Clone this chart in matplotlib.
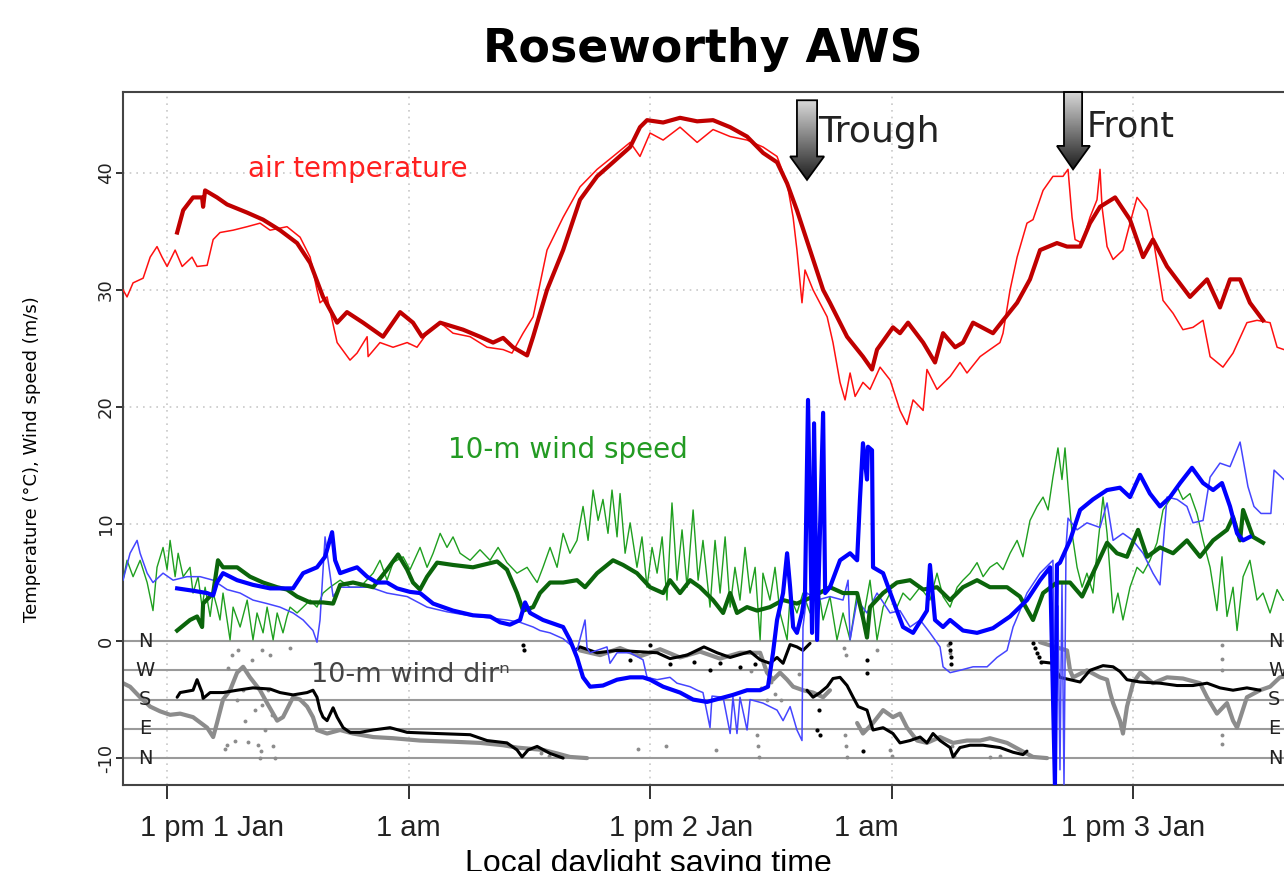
import numpy as np
import matplotlib
matplotlib.use("Agg")
import matplotlib.pyplot as plt
from matplotlib.patches import Polygon

nan = np.nan

# hours after 1 pm 1 Jan (local daylight saving time)
tick_hours = [0, 12, 24, 36, 48]
tick_labels = ["1 pm 1 Jan", "1 am", "1 pm 2 Jan", "1 am", "1 pm 3 Jan"]
# the labels in the source image sit a little off their ticks
label_hours = [2.24, 11.98, 25.54, 34.73, 48.0]

# air temperature, thin red (station 1)
temp1_t = [-2.19, -1.99, -1.69, -1.19, -0.84, -0.50, -0.25, 0.00, 0.40, 0.75, 1.24, 1.49, 1.99, 2.29,
           2.63, 3.28, 3.98, 4.62, 5.12, 5.96, 6.61, 7.11, 7.45, 7.60, 7.95, 8.45, 9.09, 9.44, 9.94,
           9.99, 10.58, 11.23, 11.93, 12.42, 12.92, 13.57, 14.21, 15.06, 15.90, 16.70, 17.14, 17.69,
           18.19, 18.88, 19.68, 20.52, 21.37, 22.16, 23.01, 23.50, 24.00, 24.65, 25.49, 26.34, 27.13,
           27.98, 28.82, 29.62, 30.31, 30.81, 31.11, 31.30, 31.55, 31.70, 32.10, 32.80, 33.09, 33.44,
           33.69, 33.94, 34.19, 34.58, 34.93, 35.43, 35.93, 36.42, 36.77, 37.07, 37.57, 37.76, 38.26,
           38.91, 39.40, 39.75, 40.40, 40.89, 41.39, 41.54, 41.89, 42.24, 42.73, 43.03, 43.53, 44.02,
           44.52, 44.77, 44.97, 45.12, 45.47, 45.86, 46.21, 46.36, 46.46, 46.71, 47.01, 47.50, 47.85,
           48.20, 48.70, 48.99, 49.49, 49.99, 50.48, 50.98, 51.48, 51.83, 52.47, 52.97, 53.66, 54.16,
           54.81, 55.16, 55.50, 56.30]
temp1 = [30.0, 29.4, 30.6, 31.0, 32.8, 33.7, 32.8, 32.0, 33.4, 32.0, 32.8, 32.0, 32.1, 34.3,
         34.9, 35.1, 35.4, 35.7, 35.1, 35.4, 34.5, 32.8, 30.0, 28.9, 29.4, 25.5, 24.0, 24.6, 26.0,
         24.3, 25.5, 25.1, 25.5, 25.1, 26.3, 27.2, 26.3, 26.0, 25.1, 24.9, 24.6, 26.3,
         27.7, 33.4, 36.2, 38.8, 40.3, 41.4, 42.6, 41.4, 43.4, 42.8, 43.9, 42.6, 43.7,
         43.1, 42.8, 42.2, 41.4, 39.1, 36.2, 33.4, 28.9, 31.7, 30.0, 27.7, 25.5, 22.1,
         20.6, 22.9, 20.9, 22.1, 21.5, 23.4, 22.3, 19.7, 18.5, 20.6, 19.7, 23.2, 21.5,
         22.6, 23.8, 22.9, 24.3, 24.9, 25.5, 26.3, 30.0, 32.8, 35.7, 36.0, 38.5, 39.7,
         39.7, 40.3, 36.2, 34.3, 34.0, 36.2, 37.7, 40.3, 37.1, 33.7, 32.6, 33.4, 35.7,
         37.9, 36.8, 34.5, 29.1, 28.0, 26.6, 26.8, 27.4, 24.3, 23.4, 24.6, 27.2, 27.4,
         27.2, 25.1, 24.9, 25.0]

# air temperature, thick dark red (station 2)
temp2_t = [0.50, 0.80, 1.29, 1.74, 1.79, 1.89, 2.48, 2.98, 3.98, 4.77, 5.61, 6.46, 7.11, 7.75,
           8.45, 8.94, 9.74, 10.73, 11.58, 12.22, 12.67, 13.57, 14.71, 15.55, 16.20, 16.70, 17.19,
           17.89, 18.19, 18.88, 19.68, 20.52, 21.37, 22.16, 23.01, 23.50, 23.85, 24.65, 25.49, 26.34,
           27.13, 27.98, 28.82, 29.62, 30.31, 30.81, 31.30, 31.95, 32.60, 32.94, 33.79, 34.58, 35.03,
           35.28, 36.07, 36.42, 36.82, 37.57, 38.16, 38.56, 39.16, 39.55, 40.05, 41.04, 41.54, 42.24,
           42.88, 43.38, 44.22, 44.72, 45.37, 45.86, 46.36, 47.11, 47.85, 48.50, 48.99, 49.69, 50.83,
           51.68, 52.32, 52.82, 53.32, 53.81, 54.46]
temp2 = [34.9, 36.8, 37.9, 37.9, 37.1, 38.5, 37.9, 37.3, 36.6, 36.0, 35.1, 34.0, 32.3, 29.4,
         27.2, 28.1, 27.2, 26.0, 28.1, 27.2, 26.0, 27.2, 26.6, 26.0, 25.5, 25.9, 25.1,
         24.4, 26.0, 30.0, 33.4, 37.7, 39.7, 40.9, 42.2, 43.9, 44.5, 44.3, 44.7, 44.4,
         44.5, 43.9, 43.1, 41.7, 40.9, 39.1, 36.8, 33.4, 30.0, 28.9, 26.0, 24.3, 23.2,
         24.9, 26.8, 26.3, 27.2, 25.5, 23.8, 26.3, 25.1, 25.5, 27.2, 26.3, 27.4, 28.9,
         30.9, 33.4, 34.0, 33.7, 33.7, 35.7, 37.1, 37.9, 36.0, 32.8, 34.3, 32.0, 29.4,
         30.9, 28.5, 30.9, 30.9, 28.9, 27.4]

# 10-m wind speed, thin green (station 1)
wind1_t = [-2.19, -1.99, -1.69, -1.34, -0.99, -0.70, -0.50, -0.20, 0.00, 0.15, 0.40, 0.55, 0.80,
           1.14, 1.29, 1.54, 1.74, 1.89, 2.14, 2.29, 2.48, 2.63, 2.78, 3.13, 3.28, 3.63, 3.98, 4.27,
           4.47, 4.77, 4.97, 5.27, 5.47, 5.76, 5.96, 6.11, 6.46, 6.76, 7.11, 7.45, 7.75, 8.10, 8.60,
           9.09, 9.59, 10.24, 10.58, 10.93, 11.23, 11.73, 12.07, 12.57, 12.92, 13.22, 13.57, 13.91,
           14.21, 14.56, 15.06, 15.55, 16.05, 16.45, 16.89, 17.39, 17.89, 18.19, 18.39, 18.68, 19.03,
           19.38, 19.68, 20.02, 20.37, 20.67, 20.92, 21.17, 21.42, 21.66, 21.91, 22.11, 22.36, 22.51,
           22.76, 23.01, 23.35, 23.60, 23.85, 24.10, 24.35, 24.60, 24.84, 25.09, 25.34, 25.59, 25.84,
           26.14, 26.39, 26.63, 26.98, 27.23, 27.48, 27.73, 27.98, 28.22, 28.47, 28.72, 28.97, 29.22,
           29.47, 29.61, 29.96, 30.21, 30.46, 30.81, 30.96, 31.30, 31.60, 31.95, 32.30, 32.60, 32.94,
           33.29, 33.59, 33.94, 34.29, 34.58, 34.93, 35.28, 35.58, 35.93, 36.27, 36.57, 36.92, 37.42,
           37.91, 38.26, 38.56, 38.91, 39.26, 39.55, 39.90, 40.25, 40.55, 40.89, 41.24, 41.54, 41.89,
           42.24, 42.53, 42.88, 43.23, 43.53, 43.78, 44.02, 44.27, 44.47, 44.62, 44.77, 44.97, 45.22,
           45.47, 45.71, 46.01, 46.26, 46.51, 46.71, 47.01, 47.25, 47.50, 47.85, 48.20, 48.50, 48.84,
           49.19, 49.49, 49.84, 50.19, 50.48, 50.83, 51.18, 51.48, 51.83, 52.17, 52.42, 52.67, 52.97,
           53.17, 53.47, 53.81, 54.16, 54.46, 54.81, 55.16, 55.45, 56.30]
wind1 = [5.2, 6.9, 5.5, 6.9, 5.0, 2.6, 6.3, 8.0, 6.1, 8.6, 5.5, 7.5, 5.5,
         6.3, 4.1, 5.5, 2.9, 4.6, 2.1, 4.1, 2.9, 1.8, 4.1, 0.1, 2.9, 1.2, 3.5, 0.1,
         2.4, 0.7, 2.9, 0.1, 2.4, 0.7, 2.1, 2.9, 2.4, 2.9, 3.5, 2.9, 4.1, 4.6, 5.2,
         4.6, 4.6, 5.8, 6.9, 5.2, 6.7, 7.2, 6.1, 8.0, 6.3, 7.5, 9.2, 8.0,
         8.9, 7.5, 6.9, 7.8, 6.9, 8.0, 6.7, 5.8, 6.3, 5.5, 5.0, 6.3, 8.0,
         6.3, 9.2, 7.5, 8.6, 11.5, 8.6, 12.9, 10.3, 12.1, 9.2, 12.9, 8.9, 12.6,
         7.5, 10.1, 6.3, 8.9, 4.6, 8.0, 5.8, 8.9, 3.5, 11.8, 5.2, 9.5, 4.6,
         11.2, 5.2, 8.6, 2.9, 8.6, 4.1, 8.9, 2.9, 6.3, 3.5, 8.0, 4.1, 6.3,
         0.1, 5.8, 3.5, 6.3, 2.4, 0.1, 3.8, 2.4, 4.1, 2.4, 5.2, 1.8, 3.8,
         0.1, 2.4, 0.1, 4.1, 1.8, 5.2, 0.1, 2.9, 4.1, 2.9, 4.1, 3.5, 4.6,
         3.5, 5.8, 3.8, 2.9, 4.6, 5.2, 5.8, 6.7, 5.5, 6.3, 6.7, 6.1, 7.5,
         8.6, 7.2, 10.3, 11.5, 12.3, 11.2, 14.0, 16.5, 13.8, 16.5, 13.2, 9.2, 6.3,
         4.6, 5.8, 4.1, 8.4, 12.3, 9.2, 2.4, 4.1, 1.8, 4.6, 6.3, 5.8, 6.9,
         8.4, 11.2, 12.1, 13.2, 12.1, 12.6, 10.9, 8.6, 6.3, 2.6, 7.2, 2.1, 4.6,
         0.9, 5.5, 6.9, 3.5, 4.1, 2.4, 4.4, 3.5, 3.2]

# 10-m wind speed, thick dark green (station 2)
wind2_t = [0.50, 1.14, 1.49, 1.74, 1.79, 2.29, 2.53, 2.78, 3.48, 4.12, 4.77, 5.47, 5.96, 6.46,
           7.11, 7.75, 8.25, 8.60, 9.24, 10.24, 10.93, 11.48, 11.93, 12.22, 12.57, 12.92, 13.42,
           14.21, 15.20, 16.40, 16.89, 17.39, 17.69, 18.19, 18.53, 19.03, 19.68, 20.37, 20.77, 21.37,
           22.16, 22.66, 23.35, 24.00, 24.65, 24.99, 25.49, 25.99, 26.48, 27.13, 27.63, 27.98, 28.32,
           28.82, 29.32, 29.96, 30.61, 31.30, 32.10, 32.94, 33.59, 34.29, 34.58, 34.78, 34.93, 35.58,
           36.27, 36.92, 37.57, 38.26, 38.91, 39.55, 40.25, 40.89, 41.74, 42.38, 43.03, 43.53, 44.22,
           44.87, 45.47, 46.01, 46.71, 47.20, 47.70, 48.25, 48.70, 49.34, 49.99, 50.68, 51.33, 51.98,
           52.67, 52.97, 53.32, 53.47, 53.96, 54.46]
wind2 = [0.9, 1.8, 2.1, 1.2, 3.2, 4.1, 6.9, 6.3, 6.3, 5.5, 5.0, 4.6, 4.4, 3.8,
         3.3, 3.3, 3.2, 4.8, 5.0, 4.6, 6.1, 7.4, 6.1, 5.0, 4.4, 5.5, 6.7,
         6.5, 6.3, 6.8, 6.1, 4.1, 2.6, 2.9, 4.1, 5.0, 5.0, 5.2, 4.6, 5.8,
         6.9, 6.5, 5.8, 4.6, 4.1, 5.2, 4.1, 5.2, 4.6, 3.5, 2.4, 4.1, 2.4,
         2.9, 2.6, 2.9, 3.5, 3.2, 3.8, 4.6, 4.1, 4.1, 2.0, 0.3, 2.9, 4.1,
         5.0, 5.2, 4.4, 4.6, 3.5, 4.6, 5.2, 4.6, 4.6, 3.8, 1.8, 4.1, 5.0,
         5.0, 3.8, 5.8, 8.4, 7.5, 7.2, 9.5, 7.2, 8.0, 7.5, 8.6, 7.2, 8.6,
         9.5, 10.6, 8.6, 11.2, 8.9, 8.4]

# blue trace, thin (station 1)
blue1_t = [-2.19, -1.84, -1.49, -1.34, -0.99, -0.70, -0.20, 0.30, 0.99, 1.64, 2.29, 2.98, 3.63,
           4.27, 4.97, 5.61, 6.26, 6.76, 7.25, 7.45, 7.60, 7.85, 8.00, 8.25, 8.60, 9.24, 10.09,
           10.93, 11.93, 12.92, 13.91, 14.91, 15.90, 16.89, 17.54, 18.19, 18.53, 19.03, 19.68, 20.17,
           20.37, 20.77, 20.87, 21.02, 21.86, 22.01, 22.36, 23.01, 23.65, 23.85, 24.35, 24.99, 25.34,
           25.99, 26.34, 26.63, 26.98, 27.08, 27.63, 27.98, 28.12, 28.32, 28.47, 28.82, 28.97, 29.61,
           30.31, 30.61, 30.96, 31.30, 31.55, 31.60, 31.80, 32.30, 32.94, 33.59, 33.84, 33.94, 34.29,
           34.78, 35.28, 35.93, 36.42, 36.92, 37.42, 37.91, 38.41, 38.56, 38.91, 39.40, 40.05, 40.75,
           41.24, 41.74, 42.04, 42.38, 42.73, 43.38, 44.02, 44.12, 44.27, 44.37, 44.47, 44.57, 44.67,
           44.77, 45.22, 45.71, 46.36, 46.71, 47.01, 47.50, 47.99, 48.50, 48.99, 49.34, 49.69, 50.19,
           50.68, 50.98, 51.48, 51.83, 52.32, 52.82, 53.32, 53.71, 54.01, 54.36, 54.85, 55.01, 55.50,
           56.30]
blue1 = [5.2, 7.5, 8.6, 7.5, 5.8, 5.0, 5.8, 5.2, 5.5, 5.5, 5.2, 4.4, 4.1,
         3.5, 3.2, 2.9, 2.4, 1.8, 0.9, -0.1, 1.8, 8.9, 6.9, 3.8, 4.6, 4.6, 4.6,
         4.1, 3.8, 2.9, 2.5, 2.2, 2.0, 1.8, 1.6, 1.2, 0.9, 0.7, 0.2, -0.5,
         -0.8, 1.8, -0.6, -1.0, -0.5, -1.9, -1.0, -1.0, -1.6, -3.1, -3.3, -3.1, -3.6,
         -3.9, -4.2, -4.4, -7.4, -4.7, -4.8, -7.9, -4.8, -7.9, -4.8, -7.6, -5.0, -5.3,
         -5.9, -6.8, -5.6, -7.6, -8.5, 1.2, 4.1, 3.5, 3.8, 3.5, 5.2, 0.1, 3.5,
         2.4, 4.1, 2.4, 2.6, 1.2, 1.8, 0.7, -0.5, -2.2, -2.7, -2.5, -2.2, -2.2,
         -1.4, -0.8, 1.2, 2.6, 4.1, 5.8, 6.9, -12.3, 3.0, -11.0, 5.0, -12.3, 8.0,
         10.5, 9.5, 10.1, 9.7, 11.8, 8.6, 9.2, 8.6, 7.5, 5.8, 4.8, 12.3, 12.1,
         11.5, 10.1, 10.3, 14.0, 15.2, 14.9, 17.0, 13.2, 11.5, 10.9, 10.9, 14.6, 13.8,
         13.8]

# blue trace, thick (station 2)
blue2_t = [0.50, 1.29, 1.99, 2.29, 2.48, 2.78, 3.48, 4.27, 5.12, 6.26, 6.76, 7.45, 7.85, 8.20,
           8.35, 8.60, 9.09, 9.44, 9.94, 10.43, 10.93, 11.43, 12.07, 12.57, 13.22, 14.21, 15.20,
           16.05, 16.55, 17.04, 17.54, 17.79, 18.04, 18.68, 19.68, 20.02, 20.37, 20.67, 21.02, 21.66,
           22.36, 23.01, 23.65, 24.00, 24.65, 25.49, 26.14, 26.83, 27.48, 28.12, 28.82, 29.47, 29.86,
           30.11, 30.31, 30.61, 30.81, 30.96, 31.11, 31.30, 31.55, 31.70, 31.85, 32.05, 32.15, 32.30,
           32.60, 32.70, 32.94, 33.44, 33.94, 34.29, 34.43, 34.58, 34.78, 34.83, 35.03, 35.08, 35.58,
           36.07, 36.57, 37.07, 37.76, 37.91, 38.16, 38.56, 38.91, 39.55, 40.25, 41.04, 41.89, 42.73,
           43.38, 43.88, 44.12, 44.22, 44.37, 44.87, 45.37, 46.01, 46.71, 47.35, 47.85, 48.35, 48.84,
           49.34, 49.84, 50.34, 50.93, 51.48, 51.98, 52.42, 52.82, 53.17, 53.47, 53.81]
blue2 = [4.5, 4.3, 4.1, 3.9, 5.0, 5.8, 5.2, 4.8, 4.5, 4.5, 5.8, 6.3, 7.2, 9.3,
         6.9, 5.8, 6.1, 6.3, 5.5, 5.0, 5.0, 4.5, 4.2, 4.1, 3.2, 2.6, 2.2,
         2.1, 1.6, 1.4, 1.8, 3.3, 2.4, 1.8, 1.2, 0.1, -1.4, -3.1, -3.9, -3.8,
         -3.3, -3.1, -3.1, -3.3, -3.9, -4.4, -5.0, -5.2, -4.9, -4.6, -4.2, -4.2, -3.9,
         -1.0, 1.8, 4.1, 7.5, 4.6, 1.2, 0.7, 2.4, 4.1, 20.6, 0.7, 18.6, 0.1,
         19.5, 4.1, 4.6, 6.9, 7.5, 6.9, 12.1, 16.9, 13.8, 16.6, 16.3, 6.3, 5.8,
         3.5, 1.2, 0.7, 2.6, 6.5, 1.8, 1.2, 1.8, 0.9, 0.7, 1.1, 2.1, 3.5,
         5.2, 6.3, -12.3, 6.5, 6.7, 8.6, 11.2, 12.1, 12.9, 13.1, 12.3, 14.2, 12.6,
         11.5, 12.3, 13.5, 14.8, 13.5, 12.9, 13.5, 11.5, 9.2, 8.6, 8.9]

# 10-m wind direction (N=0, W=-2.5, S=-5, E=-7.5, N=-10), grey = station 1
dir1_t = [-2.19, -1.84, -1.34, -0.84, -0.35, 0.15, 0.65, 1.29, 1.99, 2.29, 2.48, 2.78, 3.13, 3.48,
          3.78, 4.12, 4.62, 4.97, 5.47, 5.76, 6.26, 6.61, 6.96, 7.25, 7.45, 7.95, 8.60, 9.24, 10.24,
          11.23, 12.57, 14.21, 15.55, 16.70, 17.39, 18.04, 18.68, 19.38, 20.02, 20.87, nan,
          20.52, 21.52, 22.51, 23.50, 24.50, 25.49, 26.48, 27.48, 28.47, 29.47, 29.81, 30.11, 30.46,
          30.81, 31.11, 31.60, 32.10, 32.60, 32.94, nan,
          34.29, 34.58, 35.08, 35.58, 36.07, 36.42, 36.77, 37.27, 37.76, 38.41, 39.06, 39.75, 40.40,
          40.89, 41.74, 42.38, 43.03, 43.73, nan,
          43.38, 44.12, 44.72, 44.87, 45.02, 45.71, 46.36, 46.71, 46.86, 47.01, 47.35, 47.50, 47.70,
          48.00, 48.35, 48.99, 49.69, 50.48, 51.33, 51.68, 52.17, 52.67, 52.97, 53.17, 53.66, 54.31,
          54.81, 55.30, 56.30]
dir1 = [-3.6, -3.9, -4.8, -5.6, -6.0, -6.3, -6.2, -6.5, -7.4, -8.2, -7.0, -5.0, -4.2, -2.7,
        -2.2, -3.1, -4.2, -5.3, -6.8, -6.5, -4.8, -5.0, -5.6, -6.5, -7.6, -7.9, -7.6, -7.9, -8.2,
        -8.3, -8.5, -8.6, -8.7, -8.9, -9.1, -9.2, -9.3, -9.6, -9.9, -10.0, nan,
        -0.8, -1.2, -0.6, -1.3, -0.7, -1.4, -0.9, -1.5, -1.0, -1.0, -2.7, -3.3, -2.7,
        -3.3, -3.9, -4.2, -4.4, -4.8, -4.2, nan,
        -7.0, -7.9, -7.0, -5.9, -6.5, -6.2, -7.4, -8.5, -8.7, -8.2, -8.7, -8.5, -8.5,
        -8.3, -8.7, -9.3, -9.9, -10.0, nan,
        -0.1, -0.5, -0.8, -2.5, -3.1, -2.5, -3.1, -3.3, -4.4, -5.3, -6.8, -7.9, -5.6,
        -3.6, -2.7, -3.6, -3.1, -3.2, -3.6, -4.8, -6.2, -5.3, -6.8, -7.4, -4.8, -4.2,
        -3.9, -3.1, -2.8]

dir1_pts_t = [3.03, 3.23, 3.38, 3.53, 3.78, 4.02, 4.22, 4.37, 4.52, 4.72, 4.87, 5.02, 5.12, 5.22,
              3.48, 3.88, 4.72, 6.11, 5.27, 5.37, 3.00, 2.90, 4.60, 4.65, 18.60, 19.00, 23.40,
              24.80, 27.30, 29.30, 29.35, 29.40, 29.00, 29.50, 29.80, 30.00, 30.20, 30.50, 31.40,
              33.64, 33.69, 33.74, 33.74, 33.79, 35.28, 35.90, 36.00, 38.80, 38.90, 39.00, 39.10,
              40.90, 41.40, 42.60, 52.42, 52.42, 52.42, 52.42, 52.42]
dir1_pts = [-2.3, -1.2, -8.5, -0.8, -4.2, -8.6, -1.6, -5.9, -8.9, -0.8, -7.6, -4.2, -1.2, -6.3,
            -5.0, -6.8, -5.5, -0.6, -9.0, -10.0, -8.9, -9.2, -10.0, -9.4, -9.6, -9.8, -9.2,
            -9.0, -9.3, -8.0, -9.0, -9.9, -2.6, -4.0, -5.0, -3.5, -4.5, -5.0, -2.8,
            -0.6, -8.0, -9.0, -1.2, -9.9, -0.8, -9.3, -9.8, -0.3, -1.0, -9.0, -9.8,
            -9.9, -9.8, -9.6, -0.3, -1.5, -2.5, -8.0, -8.8]

# 10-m wind direction, black = station 2
dir2_t = [0.50, 0.65, 1.29, 1.49, 1.74, 1.79, 2.14, 2.78, 3.48, 4.27, 5.12, 5.61, 6.26, 6.96,
          7.25, 7.45, 7.60, 7.75, 7.95, 8.25, 8.45, 8.75, 9.09, 9.59, 10.24, 11.08, 11.93, 13.42,
          15.06, 15.90, 16.89, 17.39, 17.64, 17.94, 18.39, 19.03, 19.68, nan,
          20.27, 20.52, 21.37, 22.36, 23.35, 24.35, 24.99, 25.84, 26.68, 27.33, 27.98, 28.97, 29.47,
          29.96, 30.31, 30.61, 30.96, 31.30, 31.60, 31.95, nan,
          31.80, 32.10, 32.45, 32.80, 33.09, 33.44, 33.79, 34.09, 34.34, 34.78, 35.08, 35.58, 36.07,
          36.42, 36.92, 37.42, 37.76, 38.06, 38.41, 38.91, 39.06, 39.40, 39.90, 40.55, 41.39, 42.04,
          42.53, 42.73, nan,
          43.53, 44.02, 44.37, 44.87, 45.37, 45.86, 46.51, 47.01, 47.35, 47.70, 48.35, 49.34, 50.19,
          50.98, 51.68, 52.32, 52.97, 53.66, 54.31]
dir2 = [-4.8, -4.4, -4.2, -3.3, -4.4, -4.9, -4.4, -4.4, -4.2, -4.0, -4.1, -4.4, -4.6, -4.4,
        -4.2, -4.8, -5.9, -6.5, -6.8, -5.7, -6.5, -7.4, -7.8, -7.8, -7.6, -7.4, -7.8, -7.9,
        -8.0, -8.5, -8.7, -9.3, -9.9, -9.3, -9.0, -9.6, -10.0, nan,
        -0.8, -0.5, -1.0, -0.8, -0.9, -1.0, -1.5, -1.2, -0.5, -1.0, -1.4, -0.9, -1.6,
        -1.9, -1.4, -1.9, -0.3, -0.5, -0.8, -0.2, nan,
        -4.2, -4.8, -4.4, -3.9, -3.2, -3.1, -3.8, -4.8, -5.6, -5.9, -7.6, -7.4, -7.9,
        -8.7, -8.5, -8.2, -8.7, -7.9, -8.5, -9.1, -9.9, -9.1, -8.9, -8.9, -9.1, -9.5,
        -9.7, -9.4, nan,
        -1.8, -1.9, -3.1, -3.3, -3.5, -2.5, -2.1, -2.2, -2.6, -3.3, -3.5, -3.6, -3.8,
        -3.8, -3.6, -4.0, -4.2, -4.0, -4.2]

dir2_pts_t = [17.70, 17.75, 43.03, 43.13, 43.23, 43.33, 43.43, 38.90, 38.90, 38.95, 38.95, 26.98,
              27.48, 28.47, 29.22, 26.20, 25.00, 24.00, 23.00, 32.40, 32.30, 32.45, 34.78, 34.78,
              34.60]
dir2_pts = [-0.3, -0.8, -0.2, -0.6, -1.0, -1.4, -1.8, -0.2, -0.8, -1.4, -2.0, -2.5,
            -1.9, -2.2, -2.0, -1.8, -2.0, -0.3, -1.6, -5.9, -7.6, -8.0, -1.6, -2.7,
            -9.4]

dir_levels = [0, -2.5, -5, -7.5, -10]
dir_letters = ["N", "W", "S", "E", "N"]

sans = ['Liberation Sans', 'DejaVu Sans']

plt.rcParams['font.family'] = ['DejaVu Sans']
fig = plt.figure(figsize=(12.84, 8.71), dpi=100)
ax = fig.add_axes([0.0958, 0.0987, 0.9167, 0.7956])

xmin, xmax = -2.19, 56.3
ymin, ymax = -12.3, 46.9

# grid
for h in tick_hours:
    ax.axvline(h, color='#c8c8c8', lw=1.2, ls=(0, (1, 3)), zorder=0)
for v in [10, 20, 30, 40]:
    ax.axhline(v, color='#c8c8c8', lw=1.2, ls=(0, (1, 3)), zorder=0)

# compass reference lines
for lev, let in zip(dir_levels, dir_letters):
    ax.axhline(lev, color='#9a9a9a', lw=1.5, zorder=1)
    ax.text(-1.09, lev, let, fontsize=14, color='#222222', ha='center', va='center', zorder=6)
    ax.text(54.7, lev, let, fontsize=14, color='#222222', ha='left', va='center', zorder=6)

# wind direction
ax.plot(dir1_t, dir1, color='#8c8c8c', lw=3.0, solid_capstyle='round', zorder=2)
ax.plot(dir1_pts_t, dir1_pts, 'o', color='#8c8c8c', ms=2.8, mew=0, zorder=2)
ax.plot(dir2_t, dir2, color='black', lw=2.2, solid_capstyle='round', zorder=3)
ax.plot(dir2_pts_t, dir2_pts, 'o', color='black', ms=3, mew=0, zorder=3)

# wind speed and blue traces
ax.plot(wind1_t, wind1, color='#1f9f1f', lw=1.0, zorder=3)
ax.plot(blue1_t, blue1, color='#4545ff', lw=1.1, zorder=3)
ax.plot(wind2_t, wind2, color='#0b650b', lw=3.0, zorder=4)
ax.plot(blue2_t, blue2, color='#0000ff', lw=3.0, zorder=4)

# temperature
ax.plot(temp1_t, temp1, color='#ff1010', lw=1.1, zorder=4)
ax.plot(temp2_t, temp2, color='#c00000', lw=3.0, zorder=5)

# labels inside plot
ax.text(9.49, 40.3, "air temperature", color='#ff2020', fontsize=20, ha='center', va='center')
ax.text(19.93, 16.3, "10-m wind speed", color='#239b23', fontsize=20, ha='center', va='center')
ax.text(12.07, -2.9, "10-m wind dir\u207f", color='#444444', fontsize=19.5, ha='center',
        va='center', zorder=6)


def gradient_arrow(x0, x1, hx0, hx1, y_top, y_head, y_tip):
    xm = (x0 + x1) / 2
    verts = [(x0, y_top), (x1, y_top), (x1, y_head), (hx1, y_head), (xm, y_tip),
             (hx0, y_head), (x0, y_head)]
    poly = Polygon(verts, closed=True, facecolor='none', edgecolor='black', lw=1.3, zorder=8,
                   clip_on=False)
    ax.add_patch(poly)
    grad = np.linspace(0.85, 0.12, 100).reshape(-1, 1)
    im = ax.imshow(grad, cmap='gray', vmin=0, vmax=1, aspect='auto', interpolation='bilinear',
                   extent=(hx0, hx1, y_tip, y_top), origin='upper', zorder=7)
    im.set_clip_path(poly)
    im.set_clip_on(True)


gradient_arrow(31.30, 32.30, 30.96, 32.65, 46.2, 41.4, 39.4)
gradient_arrow(44.57, 45.47, 44.22, 45.86, 46.9, 42.3, 40.3)
ax.text(32.35, 43.5, "Trough", fontsize=26, color='#222222', ha='left', va='center', zorder=9)
ax.text(45.71, 44.0, "Front", fontsize=25, color='#222222', ha='left', va='center', zorder=9)

ax.set_xlim(xmin, xmax)
ax.set_ylim(ymin, ymax)

ax.set_xticks(tick_hours)
ax.set_xticklabels([])
for lh, lab in zip(label_hours, tick_labels):
    ax.text(lh, -0.062, lab, transform=ax.get_xaxis_transform(), fontsize=21, family=sans,
            color='#222222', ha='center', va='center')
ax.set_yticks([-10, 0, 10, 20, 30, 40])
ax.set_yticklabels(['-10', '0', '10', '20', '30', '40'], rotation=90, va='center', fontsize=13)
ax.tick_params(axis='x', length=10, width=1.3, colors='#222222')
ax.tick_params(axis='y', length=5, width=1.3, pad=1, colors='#222222')

ax.set_ylabel("Temperature (\u00b0C), Wind speed (m/s)", fontsize=13)
ax.yaxis.set_label_coords(-0.07, 0.47)
ax.set_xlabel("Local daylight saving time", fontsize=23, family=sans)
ax.xaxis.set_label_coords(0.446, -0.093)

for side in ['left', 'top', 'bottom', 'right']:
    ax.spines[side].set_color('#444444')
    ax.spines[side].set_linewidth(1.5)

fig.text(0.5475, 0.943, "Roseworthy AWS", fontsize=33, fontweight='bold', ha='center', va='center')

fig.savefig("out.png", dpi=100)
